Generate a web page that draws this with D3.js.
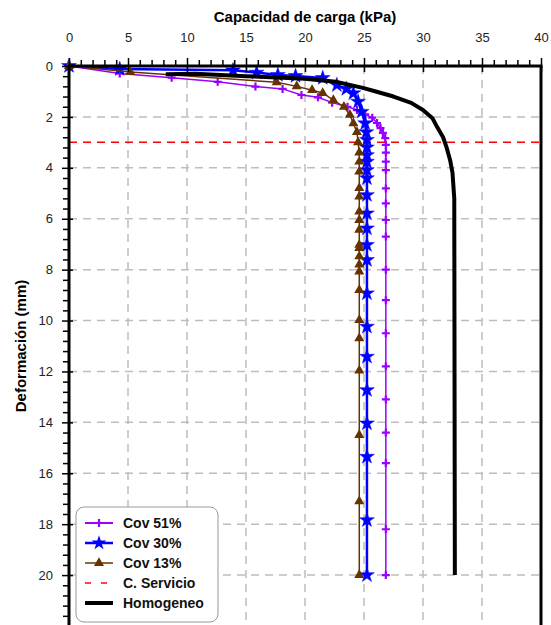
<!DOCTYPE html>
<html><head><meta charset="utf-8">
<script src="https://cdn.jsdelivr.net/npm/d3@7"></script>
<style>body{margin:0;background:#fff}svg{display:block}text{font-family:"Liberation Sans",Arial,sans-serif}</style>
</head><body><svg id="c" width="551" height="625"></svg>
<script>
// ---- data: [capacity kPa, deformation mm]
const cov51 = [[0,0],[4.3,0.29],[8.7,0.46],[12.6,0.62],[15.8,0.81],[18.1,0.9],[19.7,1.14],[21.1,1.23],[22.3,1.44],[23.6,1.6],[24.4,1.73],[25.1,1.9],[25.7,2.03],[26.1,2.24],[26.4,2.44],[26.6,2.63],[26.8,2.83],[26.85,3.1],[26.85,3.4],[26.85,3.76],[26.85,4.09],[26.85,4.81],[26.85,5.4],[26.85,6.05],[26.85,6.7],[26.85,8.0],[26.85,9.2],[26.85,10.5],[26.85,11.8],[26.85,13.1],[26.85,14.4],[26.85,15.6],[26.85,18.2],[26.85,20]];
const cov30 = [[0,0],[4.3,0.12],[13.9,0.17],[15.9,0.26],[17.7,0.35],[19.2,0.39],[21.5,0.47],[22.7,0.75],[23.5,0.9],[24.1,1.07],[24.5,1.4],[24.8,1.8],[25.1,2.25],[25.2,2.6],[25.25,2.9],[25.25,3.2],[25.25,3.5],[25.25,3.76],[25.25,4.09],[25.25,4.41],[25.25,5.07],[25.25,5.79],[25.25,6.38],[25.25,7.03],[25.25,7.62],[25.25,8.93],[25.25,10.24],[25.25,11.42],[25.25,12.73],[25.25,14.04],[25.25,15.35],[25.25,17.84],[25.25,20]];
const cov13 = [[0,0],[5.2,0.24],[17.6,0.64],[19.3,0.8],[20.6,0.95],[21.5,1.06],[22.4,1.34],[23.3,1.6],[23.8,1.92],[24.1,2.25],[24.4,2.6],[24.5,3.0],[24.6,3.4],[24.6,3.76],[24.6,4.15],[24.6,4.8],[24.6,5.13],[24.6,5.72],[24.6,6.05],[24.6,6.44],[24.6,7.03],[24.6,7.15],[24.6,7.48],[24.6,7.8],[24.6,8.08],[24.6,8.8],[24.6,9.98],[24.6,10.7],[24.6,11.97],[24.6,14.5],[24.6,17.1],[24.6,20]];
const homogeneo = [[8.2,0.32],[10.7,0.3],[15,0.4],[20,0.5],[22.6,0.62],[24.9,0.86],[26,1.0],[27.5,1.2],[29,1.45],[30,1.73],[30.8,2.05],[31.2,2.4],[31.7,2.8],[32.0,3.2],[32.3,3.7],[32.5,4.2],[32.65,5.2],[32.7,20]];
const servicio = 3;
const xTicks = [0,5,10,15,20,25,30,35,40];
const yTicks = [0,2,4,6,8,10,12,14,16,18,20];
const legendLabels = ["Cov 51%","Cov 30%","Cov 13%","C. Servicio","Homogeneo"];
const colors = {c51:"#9900ff", c30:"#0000ff", c13:"#663300", serv:"#ff0000", hom:"#000000"};

const svg = d3.select("#c");
const L=69, R=541, T=66, B=626;
const x = d3.scaleLinear().domain([0,40]).range([L,R]);
const y = d3.scaleLinear().domain([0,22]).range([T,B]);

// grid
const g = svg.append("g");
g.selectAll(".vg").data(xTicks.filter(d=>d>0&&d<40)).join("line")
 .attr("x1",d=>x(d)).attr("x2",d=>x(d)).attr("y1",T).attr("y2",B)
 .attr("stroke","#bdbdbd").attr("stroke-width",1.5).attr("stroke-dasharray","8,6");
g.selectAll(".hg").data(yTicks.filter(d=>d>0)).join("line")
 .attr("y1",d=>y(d)).attr("y2",d=>y(d)).attr("x1",L).attr("x2",R)
 .attr("stroke","#bdbdbd").attr("stroke-width",1.5).attr("stroke-dasharray","8,6");

// service line
svg.append("line").attr("x1",L).attr("x2",R).attr("y1",y(servicio)).attr("y2",y(servicio))
 .attr("stroke",colors.serv).attr("stroke-width",1.5).attr("stroke-dasharray","8,6");

const line = d3.line().x(d=>x(d[0])).y(d=>y(d[1]));
const star = d3.symbol().type(d3.symbolStar).size(68);
const tri = d3.symbol().type(d3.symbolTriangle).size(44);

// Cov 51%
svg.append("path").datum(cov51).attr("d",line).attr("fill","none").attr("stroke",colors.c51).attr("stroke-width",1.5);
svg.append("g").selectAll("path").data(cov51).join("path")
 .attr("d","M-4,0H4M0,-4V4").attr("transform",d=>`translate(${x(d[0])},${y(d[1])})`)
 .attr("stroke",colors.c51).attr("stroke-width",2.2);
// Cov 30%
svg.append("path").datum(cov30).attr("d",line).attr("fill","none").attr("stroke",colors.c30).attr("stroke-width",2.5);
svg.append("g").selectAll("path").data(cov30).join("path")
 .attr("d",star).attr("transform",d=>`translate(${x(d[0])},${y(d[1])})`)
 .attr("fill",colors.c30).attr("stroke",colors.c30).attr("stroke-width",0.5);
// Cov 13%
svg.append("path").datum(cov13).attr("d",line).attr("fill","none").attr("stroke",colors.c13).attr("stroke-width",1.5);
svg.append("g").selectAll("path").data(cov13).join("path")
 .attr("d",tri).attr("transform",d=>`translate(${x(d[0])},${y(d[1])})`)
 .attr("fill",colors.c13);
// Homogeneo
svg.append("path").datum(homogeneo).attr("d",line).attr("fill","none").attr("stroke",colors.hom).attr("stroke-width",4).attr("stroke-linejoin","round");

// axes
const ax = svg.append("g").attr("transform",`translate(0,${T})`)
 .call(d3.axisTop(x).tickValues(xTicks).tickSize(8).tickSizeOuter(0).tickPadding(16));
ax.select(".domain").remove();
ax.selectAll(".tick line").attr("y2",-8).attr("y1",6).attr("stroke","#000").attr("stroke-width",1.5);
ax.selectAll(".tick text").attr("font-size",13).attr("fill","#222").attr("font-family","Liberation Sans, Arial");
const axm = svg.append("g").attr("transform",`translate(0,${T})`)
 .call(d3.axisTop(x).tickValues(d3.range(0,41,1).filter(d=>d%5)).tickSize(6).tickFormat(""));
axm.select(".domain").remove();
axm.selectAll(".tick line").attr("stroke","#000").attr("stroke-width",1.5);

const ay = svg.append("g").attr("transform",`translate(${L},0)`)
 .call(d3.axisLeft(y).tickValues(yTicks).tickSize(7).tickSizeOuter(0).tickPadding(9));
ay.select(".domain").remove();
ay.selectAll(".tick line").attr("x2",-7).attr("x1",4).attr("stroke","#000").attr("stroke-width",1.5);
ay.selectAll(".tick text").attr("font-size",13).attr("fill","#222").attr("font-family","Liberation Sans, Arial");
const aym = svg.append("g").attr("transform",`translate(${L},0)`)
 .call(d3.axisLeft(y).tickValues(d3.range(0,22.01,0.4).filter(d=>Math.abs(d/2-Math.round(d/2))>0.01)).tickSize(6).tickFormat(""));
aym.select(".domain").remove();
aym.selectAll(".tick line").attr("stroke","#000").attr("stroke-width",1.5);

// frame
svg.append("line").attr("x1",L-1).attr("x2",R+1.5).attr("y1",T).attr("y2",T).attr("stroke","#000").attr("stroke-width",3);
svg.append("line").attr("x1",L).attr("x2",L).attr("y1",T).attr("y2",B).attr("stroke","#000").attr("stroke-width",3);
svg.append("line").attr("x1",R).attr("x2",R).attr("y1",T).attr("y2",B).attr("stroke","#000").attr("stroke-width",3);

// titles
svg.append("text").attr("x",(L+R)/2).attr("y",22).attr("text-anchor","middle")
 .attr("font-size",15).attr("font-weight","bold").text("Capacidad de carga (kPa)");
svg.append("text").attr("transform",`translate(26,${(T+B)/2}) rotate(-90)`).attr("text-anchor","middle")
 .attr("font-size",15).attr("font-weight","bold").text("Deformación (mm)");

// legend
const lg = svg.append("g");
lg.append("rect").attr("x",76).attr("y",507).attr("width",142).attr("height",115).attr("rx",8)
 .attr("fill","#fff").attr("stroke","#999").attr("stroke-width",1);
const rows = [523,543,563,583,603];
const lx1=85, lx2=113, lm=(lx1+lx2)/2;
legendLabels.forEach((t,i)=>{
  lg.append("text").attr("x",123).attr("y",rows[i]+5).attr("font-size",14).attr("font-weight","bold").attr("fill","#111").text(t);
});
lg.append("line").attr("x1",lx1).attr("x2",lx2).attr("y1",rows[0]).attr("y2",rows[0]).attr("stroke",colors.c51).attr("stroke-width",2);
lg.append("path").attr("d","M-4,0H4M0,-4V4").attr("transform",`translate(${lm},${rows[0]})`).attr("stroke",colors.c51).attr("stroke-width",2.2);
lg.append("line").attr("x1",lx1).attr("x2",lx2).attr("y1",rows[1]).attr("y2",rows[1]).attr("stroke",colors.c30).attr("stroke-width",2.5);
lg.append("path").attr("d",star).attr("transform",`translate(${lm},${rows[1]})`).attr("fill",colors.c30);
lg.append("line").attr("x1",lx1).attr("x2",lx2).attr("y1",rows[2]).attr("y2",rows[2]).attr("stroke",colors.c13).attr("stroke-width",1.5);
lg.append("path").attr("d",tri).attr("transform",`translate(${lm},${rows[2]})`).attr("fill",colors.c13);
lg.append("line").attr("x1",lx1).attr("x2",lx2).attr("y1",rows[3]).attr("y2",rows[3]).attr("stroke",colors.serv).attr("stroke-width",1.5).attr("stroke-dasharray","6,10");
lg.append("line").attr("x1",lx1).attr("x2",lx2).attr("y1",rows[4]).attr("y2",rows[4]).attr("stroke",colors.hom).attr("stroke-width",4);
</script></body></html>
